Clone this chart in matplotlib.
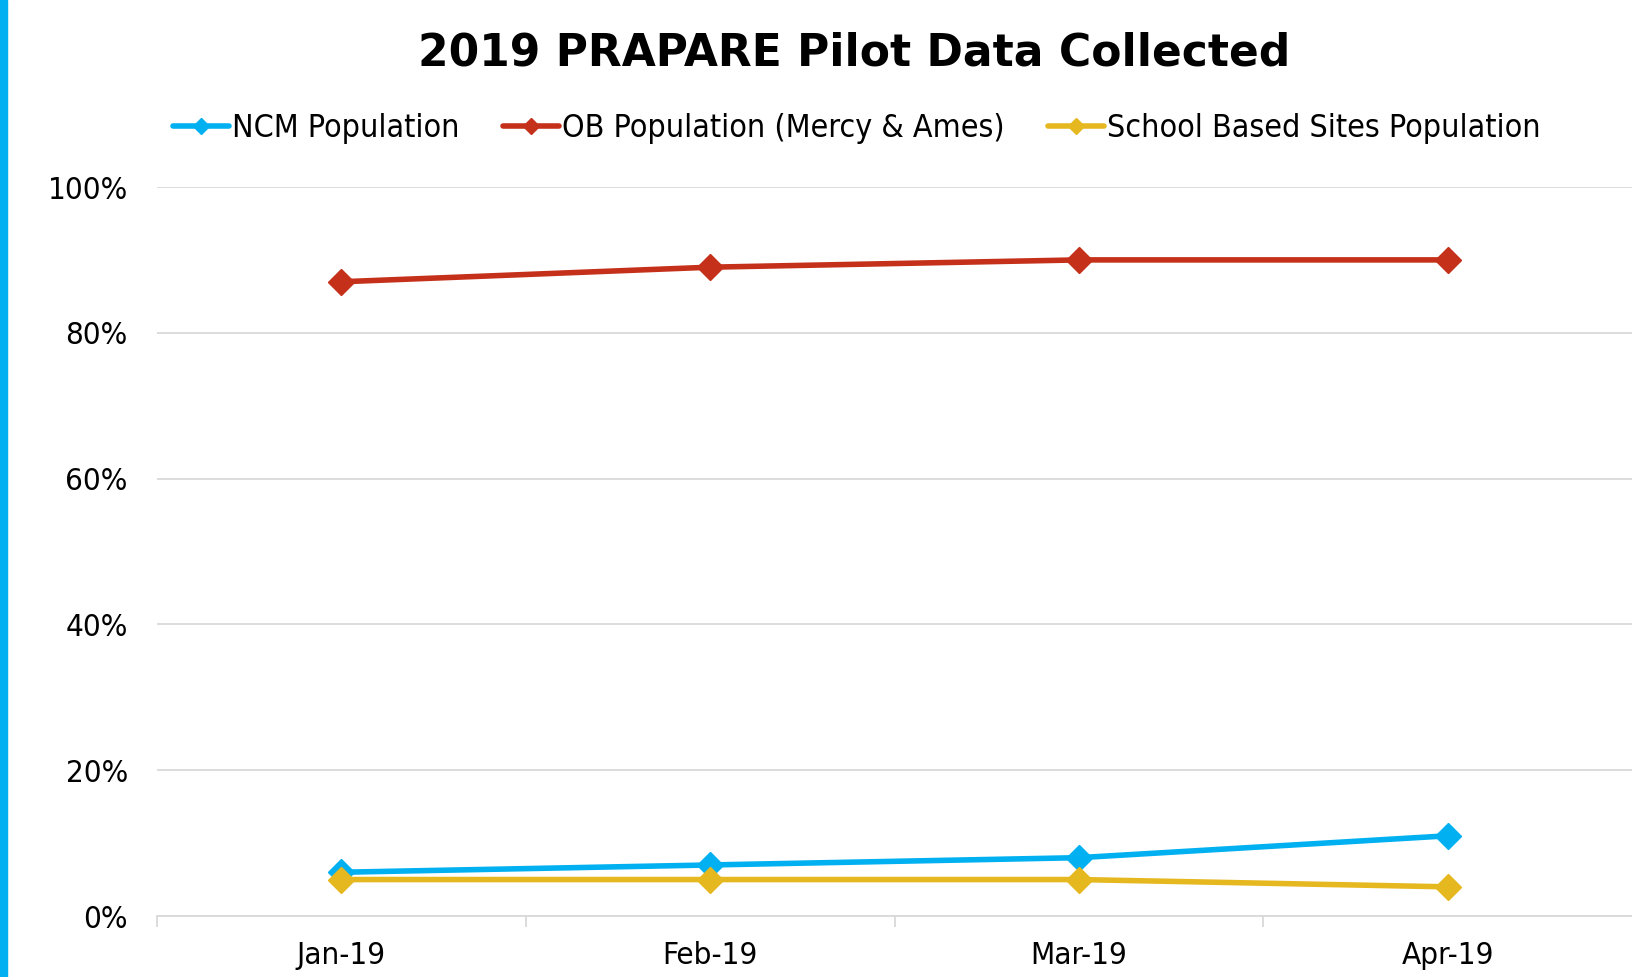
import matplotlib
matplotlib.use("Agg")
import matplotlib.pyplot as plt
from matplotlib.patches import Rectangle
from matplotlib.ticker import FuncFormatter, FixedLocator
from matplotlib import font_manager
from matplotlib.font_manager import FontProperties

months = ["Jan-19", "Feb-19", "Mar-19", "Apr-19"]
ncm = [6, 7, 8, 11]
ob = [87, 89, 90, 90]
school = [5, 5, 5, 4]
series_names = ["NCM Population", "OB Population (Mercy & Ames)", "School Based Sites Population"]
colors = ["#00b0f0", "#c5301a", "#e6b820"]
yticks = [0, 20, 40, 60, 80, 100]

cond_path = None
for f in font_manager.fontManager.ttflist:
    if f.fname.endswith("DejaVuSansCondensed.ttf"):
        cond_path = f.fname
        break

def fp(size):
    if cond_path:
        return FontProperties(fname=cond_path, size=size)
    return FontProperties(family="DejaVu Sans", size=size * 0.92)

fig = plt.figure(figsize=(16.32, 9.77), dpi=100)
ax = fig.add_axes([157/1632, 1 - 916/977, 1 - 157/1632, (916-187)/977])

x = list(range(len(months)))
for vals, name, c in zip([ncm, ob, school], series_names, colors):
    ax.plot(x, vals, color=c, lw=4.0, marker='D', ms=13, label=name,
            solid_capstyle='round', zorder=3)

ax.set_xlim(-0.5, 3.5)
ax.set_ylim(0, 100)
ax.yaxis.set_major_locator(FixedLocator(yticks))
ax.yaxis.set_major_formatter(FuncFormatter(lambda v, p: f"{int(v)}%"))
ax.grid(axis='y', color='#d9d9d9', lw=1.3)
ax.set_axisbelow(True)
for s in ['top', 'right', 'left']:
    ax.spines[s].set_visible(False)
ax.spines['bottom'].set_color('#d9d9d9')
ax.spines['bottom'].set_linewidth(1.3)

ax.set_xticks(x)
ax.set_xticklabels(months)
ax.set_xticks([-0.5, 0.5, 1.5, 2.5], minor=True)
ax.tick_params(axis='x', which='major', length=0, pad=18)
ax.tick_params(axis='x', which='minor', length=8, color='#d9d9d9', width=1.3)
ax.tick_params(axis='y', length=0, pad=21)
for lab in ax.get_xticklabels() + ax.get_yticklabels():
    lab.set_fontproperties(fp(22.5))

fig.text(854/1632, 1 - 53/977, "2019 PRAPARE Pilot Data Collected", ha='center', va='center',
         fontsize=31.7, fontweight='bold', family='DejaVu Sans')

leg = fig.legend(loc='center', bbox_to_anchor=(857/1632, 1 - 129/977), ncol=3, frameon=False,
                 prop=fp(23), handlelength=1.75, handletextpad=0.1, columnspacing=1.35,
                 markerscale=0.6)

fig.patches.append(Rectangle((0, 0), 7/1632, 1, transform=fig.transFigure,
                             color='#00b0f0', zorder=10))

fig.savefig("out.png", dpi=100)
